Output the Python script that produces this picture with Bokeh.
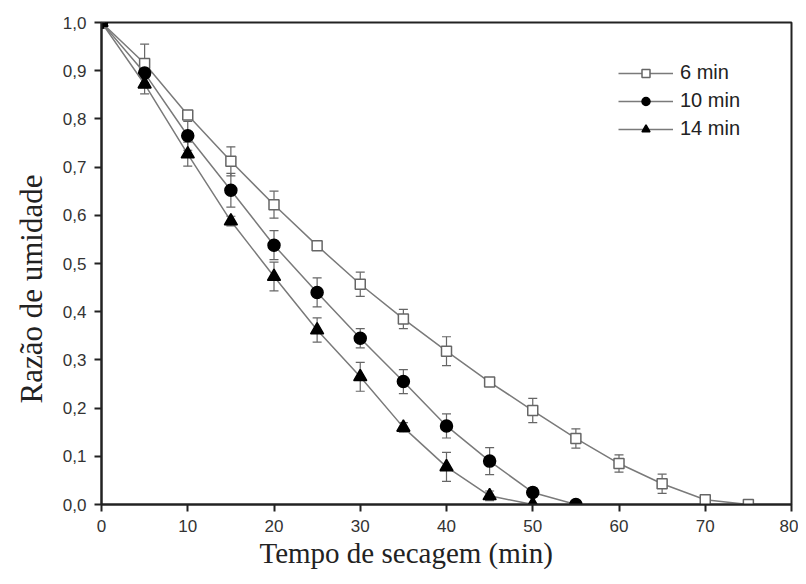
from bokeh.plotting import figure
from bokeh.models import ColumnDataSource, Whisker, TeeHead, CustomJSTickFormatter, FixedTicker, Range1d, Legend, LegendItem, Title
from bokeh.embed import file_html
from bokeh.resources import INLINE

t6 = [0, 5, 10, 15, 20, 25, 30, 35, 40, 45, 50, 55, 60, 65, 70, 75]
mr6 = [1.0, 0.915, 0.808, 0.712, 0.622, 0.537, 0.457, 0.385, 0.318, 0.254, 0.195, 0.137, 0.085, 0.043, 0.010, 0.0]
err6 = [0.0, 0.040, 0.008, 0.030, 0.028, 0.010, 0.025, 0.020, 0.030, 0.008, 0.025, 0.020, 0.018, 0.020, 0.010, 0.0]

t10 = [0, 5, 10, 15, 20, 25, 30, 35, 40, 45, 50, 55]
mr10 = [1.0, 0.895, 0.765, 0.652, 0.538, 0.440, 0.345, 0.255, 0.163, 0.090, 0.025, 0.0]
err10 = [0.0, 0.030, 0.030, 0.035, 0.030, 0.030, 0.020, 0.025, 0.025, 0.028, 0.010, 0.0]

t14 = [0, 5, 10, 15, 20, 25, 30, 35, 40, 45, 50]
mr14 = [1.0, 0.872, 0.727, 0.588, 0.473, 0.362, 0.265, 0.160, 0.078, 0.018, 0.0]
err14 = [0.0, 0.020, 0.025, 0.010, 0.030, 0.025, 0.030, 0.010, 0.030, 0.010, 0.0]

labels = ["6 min", "10 min", "14 min"]
x_ticks = [0, 10, 20, 30, 40, 50, 60, 70, 80]
y_ticks = [0.0, 0.1, 0.2, 0.3, 0.4, 0.5, 0.6, 0.7, 0.8, 0.9, 1.0]
x_title = "Tempo de secagem (min)"
y_title = "Razão de umidade"

p = figure(width=798, height=576, output_backend="svg", toolbar_location=None,
           x_range=Range1d(0, 80), y_range=Range1d(0, 1.0),
           min_border_left=99, min_border_right=7, min_border_top=22, min_border_bottom=72)
p.background_fill_color = "white"
p.border_fill_color = "white"
p.outline_line_color = "#222222"
p.outline_line_width = 2
p.xgrid.visible = False
p.ygrid.visible = False

line_col = "#7a7a7a"
series = [
    (t6, mr6, err6, "square", "white", "#666666", 10),
    (t10, mr10, err10, "circle", "black", "black", 12),
    (t14, mr14, err14, "triangle", "black", "black", 13),
]
items = []
for (t, mr, err, marker, fill, edge, size), lab in zip(series, labels):
    up = [m + e for m, e in zip(mr, err)]
    lo = [m - e for m, e in zip(mr, err)]
    src = ColumnDataSource(dict(t=t, mr=mr, up=up, lo=lo))
    ln = p.line("t", "mr", source=src, line_color=line_col, line_width=1.5)
    w = Whisker(source=src, base="t", upper="up", lower="lo", line_color="#666666", line_width=1.2,
                upper_head=TeeHead(size=9, line_color="#666666", line_width=1.2),
                lower_head=TeeHead(size=9, line_color="#666666", line_width=1.2))
    p.add_layout(w)
    sc = p.scatter("t", "mr", source=src, marker=marker, size=size, fill_color=fill,
                   line_color=edge, line_width=1.5)
    items.append(LegendItem(label=lab, renderers=[ln, sc]))

legend = Legend(items=items, location=(517, 364))
legend.border_line_color = None
legend.background_fill_alpha = 0
legend.label_text_font = "Liberation Sans"
legend.label_text_font_size = "20px"
legend.label_text_color = "#222222"
legend.glyph_width = 55
legend.glyph_height = 20
legend.label_height = 20
legend.spacing = 5
legend.label_standoff = 7
legend.margin = 0
legend.padding = 0
p.add_layout(legend)

p.xaxis.ticker = FixedTicker(ticks=x_ticks)
p.yaxis.ticker = FixedTicker(ticks=y_ticks)
p.yaxis.formatter = CustomJSTickFormatter(code="return tick.toFixed(1).replace('.', ',');")
p.xaxis.formatter = CustomJSTickFormatter(code="return tick.toFixed(0);")
for ax in (p.xaxis[0], p.yaxis[0]):
    ax.axis_line_color = "#222222"
    ax.axis_line_width = 2
    ax.major_tick_line_color = "#222222"
    ax.major_tick_line_width = 2
    ax.major_tick_out = 7
    ax.major_tick_in = 0
    ax.minor_tick_line_color = None
    ax.major_label_text_font = "Liberation Sans"
    ax.major_label_text_font_size = "17px"
    ax.major_label_text_color = "#333333"
p.xaxis.major_label_standoff = 8
p.yaxis.major_label_standoff = 8

tx = Title(text=x_title, align="left", offset=158, text_font="Liberation Serif",
           text_font_size="29px", text_font_style="normal", text_color="#222222", standoff=0)
p.add_layout(tx, "below")
ty = Title(text=y_title, align="left", offset=101, text_font="Liberation Serif",
           text_font_size="31px", text_font_style="normal", text_color="#222222", standoff=22)
p.add_layout(ty, "left")

open("out.html", "w").write(file_html(p, INLINE))
